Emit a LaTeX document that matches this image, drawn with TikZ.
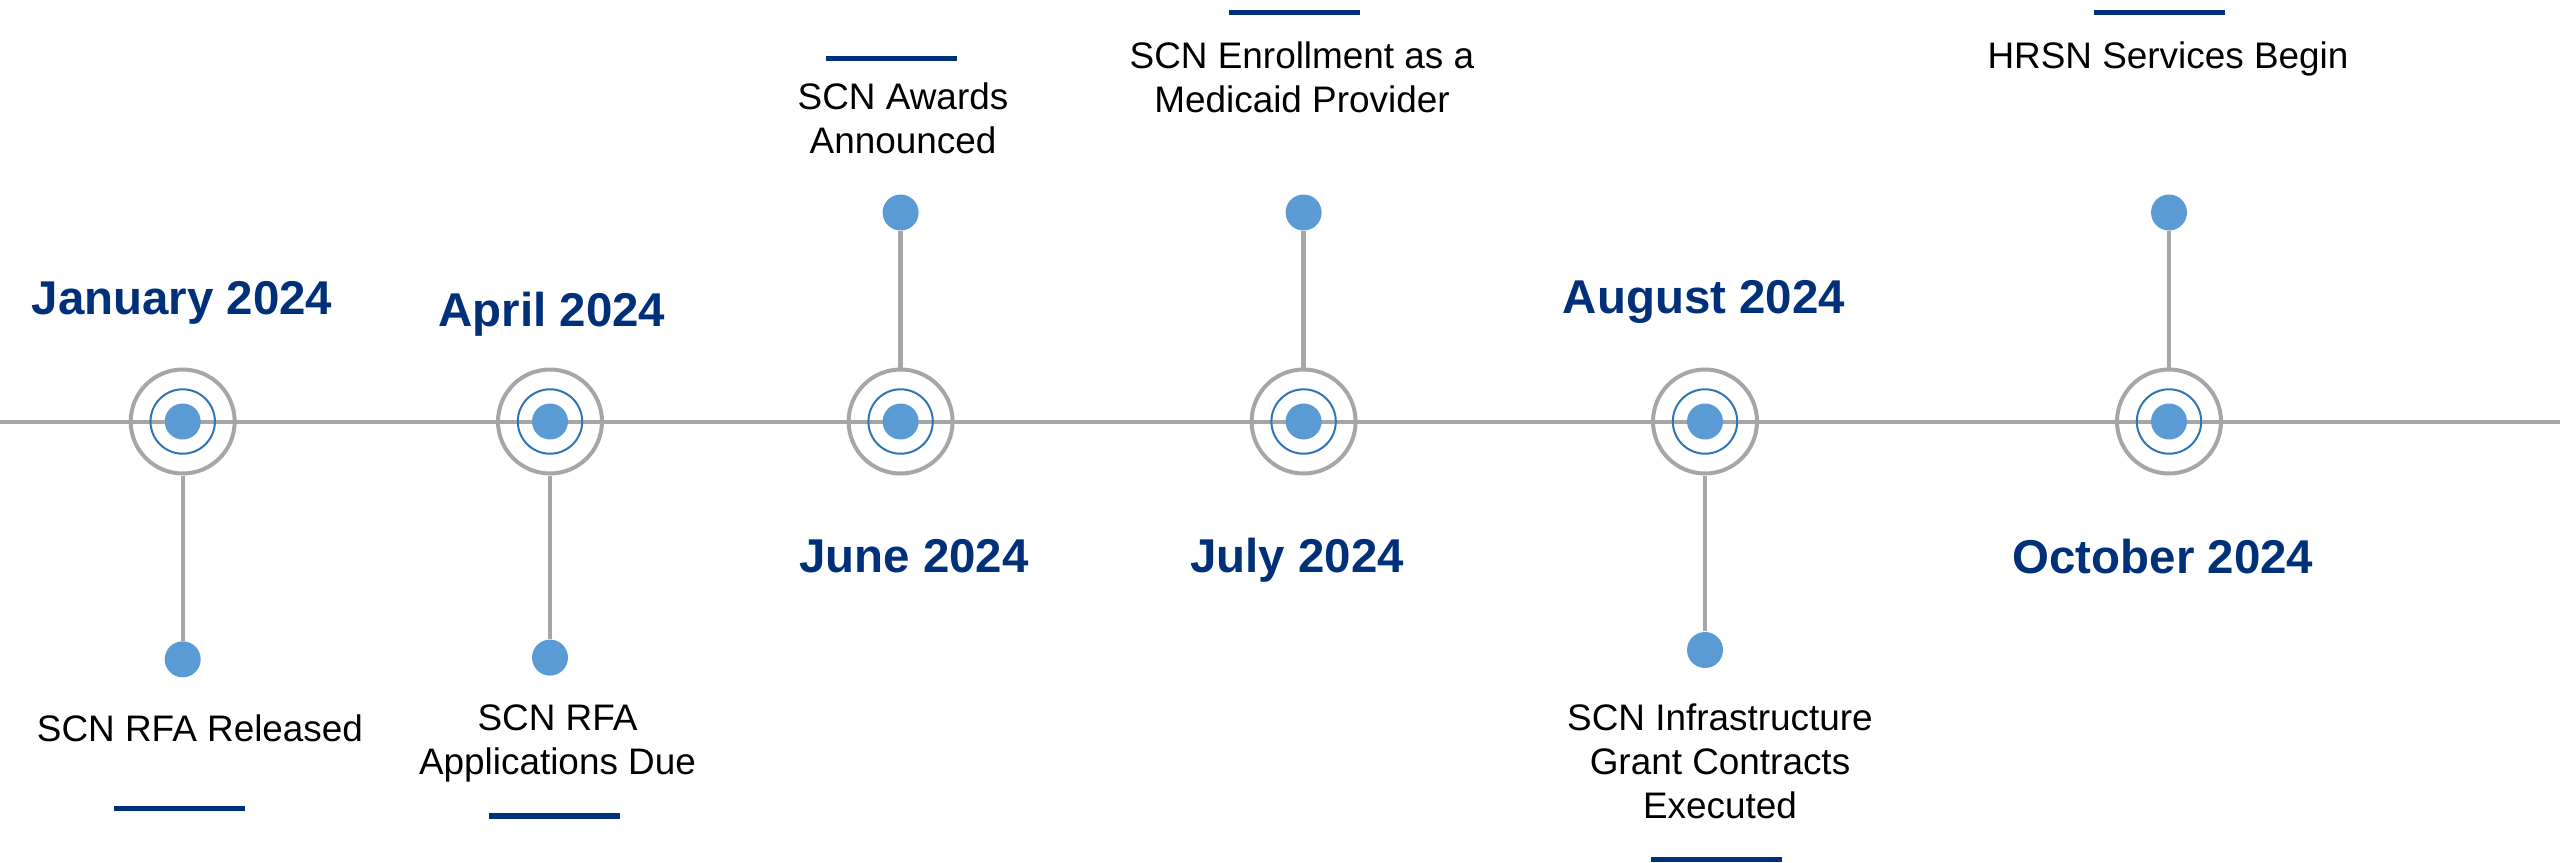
\documentclass[tikz,border=0pt]{standalone}
\usepackage{fontspec}
\setmainfont{Liberation Sans}
\usepackage{xcolor}
\usetikzlibrary{positioning}
\definecolor{navy}{HTML}{003079}
\definecolor{linegrey}{HTML}{A6A6A6}
\definecolor{ringblue}{HTML}{2E75B6}
\definecolor{dotblue}{HTML}{5B9BD5}

\begin{document}
\begin{tikzpicture}[
    ring/.style={circle,draw=linegrey,line width=0.04cm,minimum size=1.04cm,inner sep=0pt},
    enddot/.style={circle,fill=dotblue,minimum size=0.36cm,inner sep=0pt},
    stem/.style={linegrey,line width=0.043cm},
    datelbl/.style={anchor=base,font=\fontsize{13.5}{16}\selectfont\bfseries,text=navy,inner sep=0pt},
    eventlbl/.style={anchor=base,align=center,font=\fontsize{10.5}{12.5}\selectfont,inner sep=0pt},
    bar/.style={fill=navy,minimum width=1.31cm,minimum height=0.055cm,inner sep=0pt}]
  \useasboundingbox (0,0) rectangle (25.6,8.62);
  \def\axisy{4.405}
  % time axis across the whole width
  \coordinate (west) at (0,\axisy);
  \coordinate (east) at (25.6,\axisy);
  \draw[linegrey,line width=0.04cm] (west) -- (east);
  % milestones: ring, stem, end dot and month
  \foreach \i/\x/\ey/\dx/\dy/\date in {%
    1/1.827/2.027/1.82/5.48/{January 2024},
    2/5.50/2.044/5.52/5.355/{April 2024},
    3/9.006/6.495/9.14/2.90/{June 2024},
    4/13.036/6.495/12.97/2.90/{July 2024},
    5/17.05/2.12/17.04/5.49/{August 2024},
    6/21.69/6.495/21.63/2.89/{October 2024}%
  }{
    \node[ring] (m\i) at (\x,\axisy) {};
    \draw[ringblue,line width=0.02cm] (m\i.center) circle (0.322);
    \fill[dotblue] (m\i.center) circle (0.18);
    \node[enddot] (e\i) at (\x,\ey) {};
    \draw[stem] (m\i) -- (e\i);
    \node[datelbl] (d\i) at (\dx,\dy) {\date};
  }
  % event texts (base = last line) with their navy bars
  \foreach \i/\tx/\ty/\bx/\by/\txt in {%
    1/2.00/1.21/1.795/0.533/{SCN RFA Released},
    2/5.575/0.88/5.545/0.46/{SCN RFA\\Applications Due},
    3/9.03/7.09/8.915/8.033/{SCN Awards\\Announced},
    4/13.02/7.50/12.945/8.493/{SCN Enrollment as a\\Medicaid Provider},
    5/17.20/0.44/17.165/0.025/{SCN Infrastructure\\Grant Contracts\\Executed},
    6/21.68/7.94/21.595/8.493/{HRSN Services Begin}%
  }{
    \node[eventlbl] (t\i) at (\tx,\ty) {\txt};
    \node[bar] (b\i) at (\bx,\by) {};
  }
\end{tikzpicture}
\end{document}
